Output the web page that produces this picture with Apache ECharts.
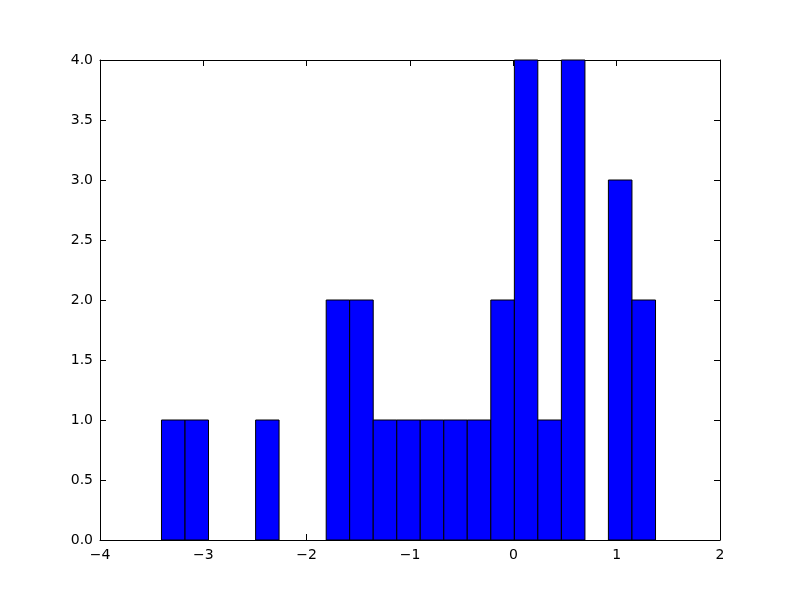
<!DOCTYPE html>
<html>
<head>
<meta charset="utf-8">
<script src="https://cdn.jsdelivr.net/npm/echarts@6/dist/echarts.min.js"></script>
<style>html,body{margin:0;padding:0;background:#fff}#c{width:800px;height:600px}</style>
</head>
<body>
<div id="c"></div>
<script>
var binEdges = [-3.405, -3.177, -2.950, -2.722, -2.494, -2.267, -2.039, -1.811, -1.584, -1.356, -1.128, -0.901, -0.673, -0.446, -0.218, 0.010, 0.237, 0.465, 0.693, 0.920, 1.148, 1.376];
var counts = [1, 1, 0, 0, 1, 0, 0, 2, 2, 1, 1, 1, 1, 1, 2, 4, 1, 4, 0, 3, 2];
var xTicks = {min: -4, max: 2, interval: 1};
var yTicks = {min: 0, max: 4, interval: 0.5};

var data = counts.map(function (c, i) { return [binEdges[i], binEdges[i + 1], c]; });
var font = 'DejaVu Sans';
function fmtX(v) { return String(v).replace('-', '\u2212'); }
function fmtY(v) { return v.toFixed(1); }
var tick = {show: true, inside: true, length: 6, lineStyle: {color: '#000', width: 1}};
var line = {show: true, onZero: false, lineStyle: {color: '#000', width: 1}};
var lbl = {color: '#000', fontSize: 14, fontFamily: font};

var chart = echarts.init(document.getElementById('c'), null, {renderer: 'canvas'});
chart.setOption({
  animation: false,
  backgroundColor: '#fff',
  grid: {left: 100, right: 80, top: 60, bottom: 60, containLabel: false},
  xAxis: [
    {type: 'value', position: 'bottom', min: xTicks.min, max: xTicks.max, interval: xTicks.interval,
     axisLine: line, axisTick: tick, splitLine: {show: false},
     axisLabel: Object.assign({margin: 8, formatter: fmtX}, lbl)},
    {type: 'value', position: 'top', min: xTicks.min, max: xTicks.max, interval: xTicks.interval,
     axisLine: line, axisTick: tick, splitLine: {show: false}, axisLabel: {show: false}}
  ],
  yAxis: [
    {type: 'value', position: 'left', min: yTicks.min, max: yTicks.max, interval: yTicks.interval,
     axisLine: line, axisTick: tick, splitLine: {show: false},
     axisLabel: Object.assign({margin: 7, formatter: fmtY}, lbl)},
    {type: 'value', position: 'right', min: yTicks.min, max: yTicks.max, interval: yTicks.interval,
     axisLine: line, axisTick: tick, splitLine: {show: false}, axisLabel: {show: false}}
  ],
  series: [{
    type: 'custom',
    xAxisIndex: 0, yAxisIndex: 0,
    data: data,
    renderItem: function (params, api) {
      var p0 = api.coord([api.value(0), api.value(2)]);
      var p1 = api.coord([api.value(1), 0]);
      if (api.value(2) <= 0) return null;
      return {
        type: 'rect',
        shape: {x: p0[0], y: p0[1], width: p1[0] - p0[0], height: p1[1] - p0[1]},
        style: {fill: '#0000ff', stroke: '#000', lineWidth: 1}
      };
    }
  }]
});
</script>
</body>
</html>
